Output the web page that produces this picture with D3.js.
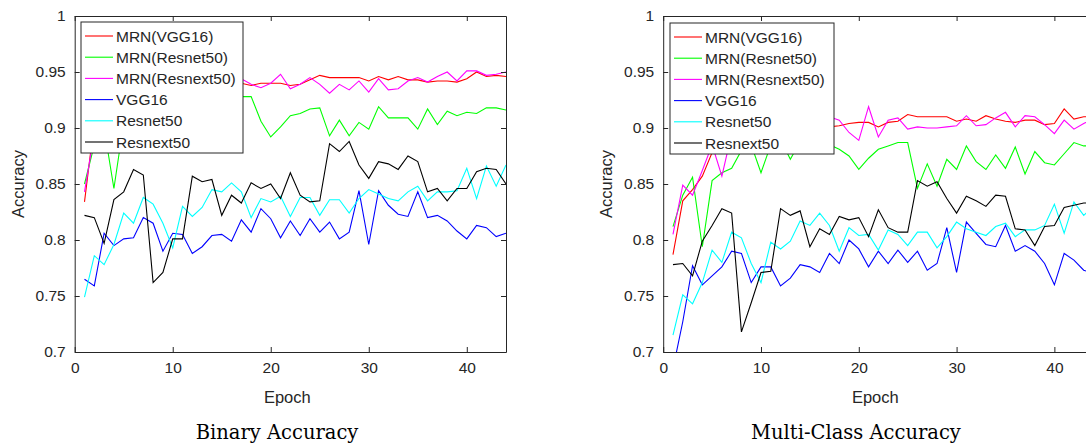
<!DOCTYPE html>
<html>
<head>
<meta charset="utf-8">
<script src="https://cdn.jsdelivr.net/npm/d3@7"></script>
<style>
  body { margin: 0; background: #fff; }
  svg { display: block; }
  text { font-family: "Liberation Sans", Arial, sans-serif; fill: #262626; }
</style>
</head>
<body>
<div id="chart"></div>
<script>
// epochs 1..44
var epochs = d3.range(1, 45);
var seriesNames = ["MRN(VGG16)", "MRN(Resnet50)", "MRN(Resnext50)", "VGG16", "Resnet50", "Resnext50"];
var seriesColors = ["#ff0000", "#00ff00", "#ff00ff", "#0000ff", "#00ffff", "#000000"];
var xTicks = [0, 10, 20, 30, 40];
var yTicks = [0.7, 0.75, 0.8, 0.85, 0.9, 0.95, 1];

// Binary accuracy
var binMrnVgg16 = [0.834, 0.905, 0.925, 0.932, 0.935, 0.937, 0.938, 0.940, 0.938, 0.940, 0.941, 0.940, 0.942, 0.940, 0.941, 0.941, 0.940, 0.938, 0.940, 0.940, 0.940, 0.938, 0.939, 0.943, 0.947, 0.945, 0.945, 0.945, 0.945, 0.942, 0.946, 0.943, 0.946, 0.943, 0.943, 0.941, 0.942, 0.942, 0.941, 0.944, 0.950, 0.946, 0.947, 0.946];
var binMrnResnet50 = [0.850, 0.885, 0.900, 0.846, 0.905, 0.918, 0.925, 0.930, 0.925, 0.930, 0.933, 0.930, 0.934, 0.930, 0.932, 0.928, 0.928, 0.928, 0.906, 0.892, 0.901, 0.911, 0.913, 0.917, 0.918, 0.893, 0.907, 0.893, 0.905, 0.899, 0.919, 0.909, 0.909, 0.909, 0.899, 0.917, 0.903, 0.915, 0.911, 0.914, 0.913, 0.918, 0.918, 0.916];
var binMrnResnext50 = [0.843, 0.895, 0.915, 0.925, 0.930, 0.935, 0.928, 0.938, 0.932, 0.940, 0.936, 0.942, 0.935, 0.940, 0.938, 0.942, 0.944, 0.939, 0.936, 0.940, 0.948, 0.935, 0.939, 0.945, 0.939, 0.931, 0.939, 0.934, 0.942, 0.932, 0.944, 0.934, 0.935, 0.942, 0.945, 0.941, 0.946, 0.950, 0.942, 0.951, 0.951, 0.947, 0.948, 0.950];
var binVgg16 = [0.765, 0.759, 0.806, 0.795, 0.801, 0.802, 0.820, 0.815, 0.790, 0.806, 0.805, 0.788, 0.794, 0.804, 0.805, 0.799, 0.818, 0.807, 0.828, 0.819, 0.802, 0.817, 0.804, 0.819, 0.807, 0.816, 0.801, 0.807, 0.844, 0.796, 0.844, 0.831, 0.823, 0.821, 0.843, 0.820, 0.822, 0.817, 0.808, 0.801, 0.813, 0.811, 0.803, 0.806];
var binResnet50 = [0.749, 0.786, 0.778, 0.796, 0.824, 0.815, 0.838, 0.832, 0.815, 0.793, 0.830, 0.821, 0.829, 0.845, 0.843, 0.851, 0.843, 0.820, 0.837, 0.834, 0.839, 0.821, 0.838, 0.838, 0.822, 0.836, 0.836, 0.824, 0.837, 0.845, 0.841, 0.837, 0.835, 0.843, 0.848, 0.835, 0.843, 0.843, 0.844, 0.864, 0.837, 0.866, 0.848, 0.867];
var binResnext50 = [0.822, 0.820, 0.797, 0.836, 0.843, 0.863, 0.858, 0.762, 0.771, 0.801, 0.801, 0.857, 0.852, 0.854, 0.822, 0.840, 0.833, 0.851, 0.846, 0.850, 0.837, 0.860, 0.840, 0.834, 0.835, 0.886, 0.879, 0.888, 0.867, 0.855, 0.870, 0.868, 0.863, 0.875, 0.870, 0.843, 0.846, 0.835, 0.846, 0.846, 0.861, 0.864, 0.863, 0.850];

// Multi-class accuracy
var mcMrnVgg16 = [0.787, 0.835, 0.845, 0.857, 0.878, 0.885, 0.890, 0.893, 0.895, 0.897, 0.898, 0.899, 0.900, 0.900, 0.901, 0.901, 0.901, 0.902, 0.904, 0.905, 0.905, 0.901, 0.905, 0.906, 0.912, 0.910, 0.910, 0.910, 0.910, 0.906, 0.908, 0.906, 0.911, 0.908, 0.906, 0.905, 0.907, 0.907, 0.903, 0.904, 0.917, 0.908, 0.910, 0.910];
var mcMrnResnet50 = [0.812, 0.840, 0.856, 0.794, 0.853, 0.860, 0.864, 0.880, 0.885, 0.860, 0.885, 0.890, 0.872, 0.888, 0.890, 0.888, 0.885, 0.881, 0.875, 0.863, 0.873, 0.881, 0.884, 0.887, 0.887, 0.846, 0.868, 0.848, 0.872, 0.863, 0.884, 0.870, 0.863, 0.876, 0.864, 0.883, 0.859, 0.879, 0.869, 0.867, 0.877, 0.887, 0.884, 0.884];
var mcMrnResnext50 = [0.805, 0.849, 0.840, 0.862, 0.885, 0.857, 0.895, 0.900, 0.905, 0.898, 0.905, 0.910, 0.903, 0.908, 0.912, 0.911, 0.910, 0.907, 0.896, 0.889, 0.919, 0.892, 0.907, 0.909, 0.899, 0.901, 0.900, 0.900, 0.901, 0.902, 0.911, 0.902, 0.903, 0.909, 0.914, 0.901, 0.911, 0.910, 0.903, 0.895, 0.907, 0.899, 0.904, 0.908];
var mcVgg16 = [0.685, 0.727, 0.777, 0.760, 0.768, 0.776, 0.790, 0.788, 0.762, 0.776, 0.776, 0.759, 0.766, 0.778, 0.776, 0.771, 0.788, 0.779, 0.800, 0.792, 0.776, 0.790, 0.779, 0.791, 0.780, 0.790, 0.773, 0.779, 0.811, 0.771, 0.816, 0.806, 0.796, 0.794, 0.813, 0.790, 0.795, 0.790, 0.779, 0.760, 0.788, 0.782, 0.773, 0.770];
var mcResnet50 = [0.715, 0.751, 0.743, 0.762, 0.791, 0.780, 0.807, 0.802, 0.779, 0.762, 0.798, 0.792, 0.799, 0.817, 0.813, 0.824, 0.813, 0.790, 0.811, 0.804, 0.805, 0.791, 0.809, 0.805, 0.795, 0.807, 0.807, 0.793, 0.803, 0.816, 0.810, 0.807, 0.804, 0.812, 0.815, 0.803, 0.809, 0.809, 0.813, 0.832, 0.806, 0.834, 0.822, 0.830];
var mcResnext50 = [0.778, 0.779, 0.768, 0.799, 0.813, 0.828, 0.824, 0.718, 0.744, 0.771, 0.772, 0.828, 0.822, 0.826, 0.794, 0.810, 0.805, 0.821, 0.818, 0.820, 0.803, 0.827, 0.811, 0.807, 0.807, 0.853, 0.848, 0.852, 0.837, 0.824, 0.839, 0.835, 0.830, 0.840, 0.839, 0.810, 0.809, 0.795, 0.812, 0.813, 0.829, 0.831, 0.833, 0.833];

var W = 1086, H = 446;

var svg = d3.select("#chart").append("svg")
    .attr("width", W)
    .attr("height", H);

function drawPanel(id, left, top, width, height, series, title, titleX, legendBox) {
    var x = d3.scaleLinear().domain([0, 44]).range([left, left + width]);
    var y = d3.scaleLinear().domain([0.7, 1]).range([top + height, top]);

    var g = svg.append("g");

    g.append("clipPath").attr("id", "clip" + id)
        .append("rect")
        .attr("x", left).attr("y", top)
        .attr("width", width).attr("height", height);

    var line = d3.line()
        .x(function(d, i) { return x(epochs[i]); })
        .y(function(d) { return y(d); });

    // lines, draw order as in legend
    g.append("g").attr("clip-path", "url(#clip" + id + ")")
        .selectAll("path")
        .data(series)
        .enter()
        .append("path")
        .attr("d", function(d) { return line(d); })
        .attr("fill", "none")
        .attr("stroke", function(d, i) { return seriesColors[i]; })
        .attr("stroke-width", 1.1);

    // box axes, ticks pointing inward
    var ax = g.append("g").attr("class", "axes");
    ax.append("g")
        .attr("transform", "translate(0," + (top + height) + ")")
        .call(d3.axisBottom(x).tickValues(xTicks).tickSizeInner(-5).tickSizeOuter(0).tickPadding(10));
    ax.append("g")
        .attr("transform", "translate(0," + top + ")")
        .call(d3.axisTop(x).tickValues(xTicks).tickSizeInner(-5).tickSizeOuter(0).tickFormat(""));
    ax.append("g")
        .attr("transform", "translate(" + left + ",0)")
        .call(d3.axisLeft(y).tickValues(yTicks).tickSizeInner(-5).tickSizeOuter(0).tickPadding(9)
            .tickFormat(function(d) { return d3.format("")(+d.toFixed(2)); }));
    ax.append("g")
        .attr("transform", "translate(" + (left + width) + ",0)")
        .call(d3.axisRight(y).tickValues(yTicks).tickSizeInner(-5).tickSizeOuter(0).tickFormat(""));

    ax.selectAll(".domain").attr("stroke", "#262626").attr("stroke-width", 1);
    ax.selectAll(".tick line").attr("stroke", "#262626");
    ax.selectAll(".tick text").style("font-size", "15.5px").attr("fill", "#262626");

    // axis labels
    g.append("text")
        .attr("x", left + width / 2 - 3)
        .attr("y", 397)
        .attr("text-anchor", "middle")
        .attr("dominant-baseline", "central")
        .style("font-size", "16.5px")
        .text("Epoch");
    g.append("text")
        .attr("transform", "translate(" + (left - 57) + "," + (top + height / 2) + ")rotate(-90)")
        .attr("text-anchor", "middle")
        .attr("dominant-baseline", "central")
        .style("font-size", "16.5px")
        .text("Accuracy");

    // legend
    var lg = g.append("g").attr("transform", "translate(" + legendBox[0] + "," + legendBox[1] + ")");
    lg.append("rect")
        .attr("width", legendBox[2]).attr("height", legendBox[3])
        .attr("fill", "#fff").attr("stroke", "#262626").attr("stroke-width", 1);
    seriesNames.forEach(function(name, i) {
        var ly = 14 + i * 21.2;
        lg.append("line")
            .attr("x1", 4).attr("x2", 32)
            .attr("y1", ly).attr("y2", ly)
            .attr("stroke", seriesColors[i]).attr("stroke-width", 1.1);
        lg.append("text")
            .attr("x", 35).attr("y", ly)
            .attr("dominant-baseline", "central")
            .style("font-size", "15.5px")
            .text(name);
    });

    // caption
    svg.append("text")
        .attr("x", titleX).attr("y", 432)
        .attr("text-anchor", "middle")
        .attr("dominant-baseline", "central")
        .style("font-family", "'DejaVu Serif', serif")
        .style("font-size", "19.5px")
        .style("fill", "#000")
        .text(title);
}

drawPanel("bin", 74.7, 16, 431.3, 336,
    [binMrnVgg16, binMrnResnet50, binMrnResnext50, binVgg16, binResnet50, binResnext50],
    "Binary Accuracy", 277, [81, 22, 162, 131]);

drawPanel("mc", 663.2, 16, 430.3, 336,
    [mcMrnVgg16, mcMrnResnet50, mcMrnResnext50, mcVgg16, mcResnet50, mcResnext50],
    "Multi-Class Accuracy", 856, [670, 23, 164, 131]);
</script>
</body>
</html>
